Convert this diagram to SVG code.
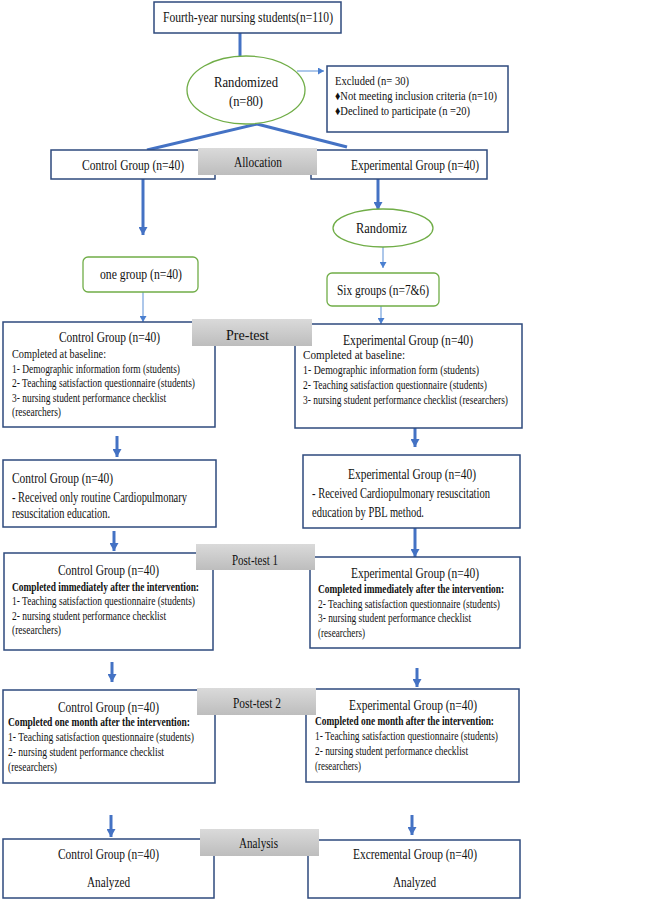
<svg xmlns="http://www.w3.org/2000/svg" width="669" height="901" viewBox="0 0 669 901">
<style>
text{font-family:"Liberation Serif","Times New Roman",serif;fill:#111;}
.s14{font-size:15px}.s13{font-size:14px}.s12{font-size:12.5px}.s11{font-size:12px}
.b{font-weight:bold}
.box{fill:#fff;stroke:#2E4A7D;stroke-width:1.5}
.grn{fill:#fff;stroke:#70AD47;stroke-width:1.3}
.gray{fill:url(#g)}
.thick{stroke:#4472C4;stroke-width:3;fill:none}
.thin{stroke:#5B8FD5;stroke-width:1;fill:none}
</style>
<defs>
<linearGradient id="g" x1="0" y1="0" x2="0" y2="1">
<stop offset="0" stop-color="#dadada"/><stop offset="1" stop-color="#bdbdbd"/>
</linearGradient>
<marker id="ah" markerUnits="userSpaceOnUse" markerWidth="9" markerHeight="9" refX="8" refY="4.5" orient="auto">
<path d="M0,0 L8,4.5 L0,9 Z" fill="#4472C4"/>
</marker>
<marker id="ahs" markerUnits="userSpaceOnUse" markerWidth="7" markerHeight="7" refX="6" refY="3.5" orient="auto">
<path d="M0,0 L6,3.5 L0,7 Z" fill="#4A7FD0"/>
</marker>
</defs>

<g id="connectors">
<line class="thick" x1="240" y1="33" x2="240" y2="56"/>
<line class="thin" x1="297" y1="71" x2="324" y2="71" marker-end="url(#ahs)"/>
<line class="thick" x1="257" y1="124" x2="147" y2="150"/>
<line class="thick" x1="257" y1="124" x2="347" y2="147"/>
<line class="thick" x1="143" y1="179" x2="143" y2="235" marker-end="url(#ah)"/>
<line class="thick" x1="378" y1="179" x2="378" y2="210" marker-end="url(#ah)"/>
<line class="thin" x1="383" y1="247" x2="383" y2="268" marker-end="url(#ahs)"/>
<line class="thin" x1="143" y1="292" x2="143" y2="322" marker-end="url(#ahs)"/>
<line class="thin" x1="381" y1="306" x2="381" y2="324" marker-end="url(#ahs)"/>
<line class="thick" x1="117" y1="436" x2="117" y2="457" marker-end="url(#ah)"/>
<line class="thick" x1="415" y1="428" x2="415" y2="447" marker-end="url(#ah)"/>
<line class="thick" x1="114" y1="531" x2="114" y2="551" marker-end="url(#ah)"/>
<line class="thick" x1="415" y1="528" x2="415" y2="557" marker-end="url(#ah)"/>
<line class="thick" x1="112" y1="662" x2="112" y2="682" marker-end="url(#ah)"/>
<line class="thick" x1="417" y1="668" x2="417" y2="687" marker-end="url(#ah)"/>
<line class="thick" x1="111" y1="815" x2="111" y2="837" marker-end="url(#ah)"/>
<line class="thick" x1="412" y1="815" x2="412" y2="835" marker-end="url(#ah)"/>
</g>

<g id="n-start">
<rect class="box" x="154" y="2" width="187" height="31"/>
<text class="s14" x="163" y="22" textLength="170" lengthAdjust="spacingAndGlyphs">Fourth-year nursing students(n=110)</text>
</g>

<g id="n-randomized">
<ellipse class="grn" cx="246" cy="90" rx="59" ry="34"/>
<text class="s14" x="214" y="87" textLength="64" lengthAdjust="spacingAndGlyphs">Randomized</text>
<text class="s14" x="229" y="106" textLength="34" lengthAdjust="spacingAndGlyphs">(n=80)</text>
</g>

<g id="n-excluded">
<rect class="box" x="327" y="66" width="181" height="66"/>
<text class="s12" x="335" y="85" textLength="74" lengthAdjust="spacingAndGlyphs">Excluded (n= 30)</text>
<text class="s12" x="335" y="100" textLength="162" lengthAdjust="spacingAndGlyphs">♦Not meeting inclusion criteria (n=10)</text>
<text class="s12" x="335" y="115" textLength="135" lengthAdjust="spacingAndGlyphs">♦Declined to participate (n =20)</text>
</g>

<g id="n-alloc-control">
<rect class="box" x="51" y="150" width="164" height="29"/>
<text class="s13" x="82" y="170" textLength="102" lengthAdjust="spacingAndGlyphs">Control Group (n=40)</text>
</g>
<g id="n-alloc-exp">
<rect class="box" x="311" y="150" width="176" height="29"/>
<text class="s13" x="351" y="170" textLength="128" lengthAdjust="spacingAndGlyphs">Experimental Group (n=40)</text>
</g>
<g id="n-allocation">
<rect class="gray" x="198" y="148" width="119" height="27"/>
<text class="s13" x="234" y="167" textLength="48" lengthAdjust="spacingAndGlyphs">Allocation</text>
</g>

<g id="n-randomiz">
<ellipse class="grn" cx="383" cy="228" rx="50" ry="19"/>
<text class="s14" x="356" y="233" textLength="51" lengthAdjust="spacingAndGlyphs">Randomiz</text>
</g>
<g id="n-six">
<rect class="grn" x="327" y="273" width="112" height="33" rx="5"/>
<text class="s13" x="337" y="295" textLength="92" lengthAdjust="spacingAndGlyphs">Six groups (n=7&amp;6)</text>
</g>
<g id="n-one">
<rect class="grn" x="83" y="257" width="115" height="35" rx="5"/>
<text class="s13" x="100" y="279" textLength="82" lengthAdjust="spacingAndGlyphs">one group (n=40)</text>
</g>

<g id="n-pre-control">
<rect class="box" x="3" y="322" width="212" height="105"/>
<text class="s13" x="59" y="342" textLength="101" lengthAdjust="spacingAndGlyphs">Control Group (n=40)</text>
<text class="s11" x="12" y="358" textLength="94" lengthAdjust="spacingAndGlyphs">Completed at baseline:</text>
<text class="s11" x="12" y="373" textLength="168" lengthAdjust="spacingAndGlyphs">1- Demographic information form (students)</text>
<text class="s11" x="12" y="387" textLength="183" lengthAdjust="spacingAndGlyphs">2- Teaching satisfaction questionnaire (students)</text>
<text class="s11" x="12" y="402" textLength="154" lengthAdjust="spacingAndGlyphs">3- nursing student performance checklist</text>
<text class="s11" x="12" y="416" textLength="49" lengthAdjust="spacingAndGlyphs">(researchers)</text>
</g>
<g id="n-pre-exp">
<rect class="box" x="295" y="324" width="227" height="104"/>
<text class="s13" x="343" y="345" textLength="130" lengthAdjust="spacingAndGlyphs">Experimental Group (n=40)</text>
<text class="s11" x="303" y="359" textLength="102" lengthAdjust="spacingAndGlyphs">Completed at baseline:</text>
<text class="s11" x="303" y="374" textLength="176" lengthAdjust="spacingAndGlyphs">1- Demographic information form (students)</text>
<text class="s11" x="303" y="389" textLength="184" lengthAdjust="spacingAndGlyphs">2- Teaching satisfaction questionnaire (students)</text>
<text class="s11" x="303" y="404" textLength="205" lengthAdjust="spacingAndGlyphs">3- nursing student performance checklist (researchers)</text>
</g>
<g id="n-pretest">
<rect class="gray" x="192" y="319" width="120" height="27"/>
<text class="s13" x="226" y="340" textLength="43" lengthAdjust="spacingAndGlyphs">Pre-test</text>
</g>

<g id="n-int-control">
<rect class="box" x="3" y="460" width="213" height="67"/>
<text class="s13" x="12" y="483" textLength="101" lengthAdjust="spacingAndGlyphs">Control Group (n=40)</text>
<text class="s13" x="12" y="502" textLength="175" lengthAdjust="spacingAndGlyphs">- Received only routine Cardiopulmonary</text>
<text class="s13" x="12" y="518" textLength="98" lengthAdjust="spacingAndGlyphs">resuscitation education.</text>
</g>
<g id="n-int-exp">
<rect class="box" x="303" y="455" width="217" height="73"/>
<text class="s13" x="348" y="479" textLength="128" lengthAdjust="spacingAndGlyphs">Experimental Group (n=40)</text>
<text class="s13" x="312" y="498" textLength="178" lengthAdjust="spacingAndGlyphs">- Received Cardiopulmonary resuscitation</text>
<text class="s13" x="312" y="517" textLength="112" lengthAdjust="spacingAndGlyphs">education by PBL method.</text>
</g>

<g id="n-post1-control">
<rect class="box" x="4" y="553" width="209" height="97"/>
<text class="s13" x="58" y="575" textLength="101" lengthAdjust="spacingAndGlyphs">Control Group (n=40)</text>
<text class="s11 b" x="12" y="591" textLength="187" lengthAdjust="spacingAndGlyphs">Completed immediately after the intervention:</text>
<text class="s11" x="12" y="605" textLength="183" lengthAdjust="spacingAndGlyphs">1- Teaching satisfaction questionnaire (students)</text>
<text class="s11" x="12" y="620" textLength="154" lengthAdjust="spacingAndGlyphs">2- nursing student performance checklist</text>
<text class="s11" x="12" y="634" textLength="49" lengthAdjust="spacingAndGlyphs">(researchers)</text>
</g>
<g id="n-post1-exp">
<rect class="box" x="310" y="557" width="210" height="91"/>
<text class="s13" x="351" y="578" textLength="128" lengthAdjust="spacingAndGlyphs">Experimental Group (n=40)</text>
<text class="s11 b" x="318" y="593" textLength="186" lengthAdjust="spacingAndGlyphs">Completed immediately after the intervention:</text>
<text class="s11" x="318" y="608" textLength="182" lengthAdjust="spacingAndGlyphs">2- Teaching satisfaction questionnaire (students)</text>
<text class="s11" x="318" y="622" textLength="153" lengthAdjust="spacingAndGlyphs">3- nursing student performance checklist</text>
<text class="s11" x="318" y="637" textLength="47" lengthAdjust="spacingAndGlyphs">(researchers)</text>
</g>
<g id="n-posttest1">
<rect class="gray" x="196" y="544" width="119" height="26"/>
<text class="s13" x="232" y="565" textLength="46" lengthAdjust="spacingAndGlyphs">Post-test 1</text>
</g>

<g id="n-post2-control">
<rect class="box" x="3" y="690" width="212" height="93"/>
<text class="s13" x="58" y="712" textLength="101" lengthAdjust="spacingAndGlyphs">Control Group (n=40)</text>
<text class="s11 b" x="8" y="726" textLength="182" lengthAdjust="spacingAndGlyphs">Completed one month after the intervention:</text>
<text class="s11" x="8" y="741" textLength="186" lengthAdjust="spacingAndGlyphs">1- Teaching satisfaction questionnaire (students)</text>
<text class="s11" x="8" y="756" textLength="156" lengthAdjust="spacingAndGlyphs">2- nursing student performance checklist</text>
<text class="s11" x="8" y="771" textLength="49" lengthAdjust="spacingAndGlyphs">(researchers)</text>
</g>
<g id="n-post2-exp">
<rect class="box" x="306" y="689" width="213" height="93"/>
<text class="s13" x="349" y="710" textLength="128" lengthAdjust="spacingAndGlyphs">Experimental Group (n=40)</text>
<text class="s11 b" x="315" y="725" textLength="179" lengthAdjust="spacingAndGlyphs">Completed one month after the intervention:</text>
<text class="s11" x="315" y="740" textLength="183" lengthAdjust="spacingAndGlyphs">1- Teaching satisfaction questionnaire (students)</text>
<text class="s11" x="315" y="755" textLength="153" lengthAdjust="spacingAndGlyphs">2- nursing student performance checklist</text>
<text class="s11" x="315" y="770" textLength="46" lengthAdjust="spacingAndGlyphs">(researchers)</text>
</g>
<g id="n-posttest2">
<rect class="gray" x="197" y="688" width="119" height="27"/>
<text class="s13" x="233" y="708" textLength="48" lengthAdjust="spacingAndGlyphs">Post-test 2</text>
</g>

<g id="n-an-control">
<rect class="box" x="3" y="839" width="211" height="59"/>
<text class="s13" x="58" y="859" textLength="101" lengthAdjust="spacingAndGlyphs">Control Group (n=40)</text>
<text class="s13" x="87" y="887" textLength="43" lengthAdjust="spacingAndGlyphs">Analyzed</text>
</g>
<g id="n-an-exp">
<rect class="box" x="308" y="840" width="212" height="58"/>
<text class="s13" x="353" y="859" textLength="124" lengthAdjust="spacingAndGlyphs">Excremental Group (n=40)</text>
<text class="s13" x="393" y="887" textLength="43" lengthAdjust="spacingAndGlyphs">Analyzed</text>
</g>
<g id="n-analysis">
<rect class="gray" x="200" y="829" width="119" height="27"/>
<text class="s13" x="239" y="848" textLength="39" lengthAdjust="spacingAndGlyphs">Analysis</text>
</g>
</svg>
